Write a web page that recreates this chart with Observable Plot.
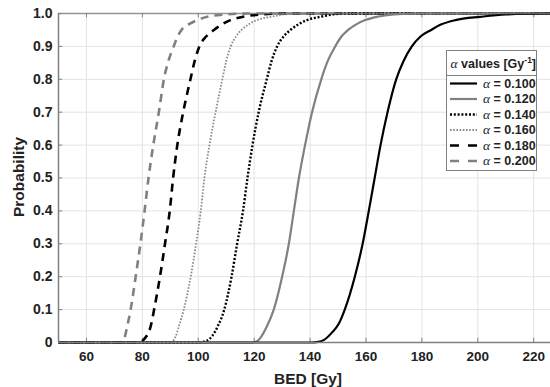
<!DOCTYPE html>
<html><head><meta charset="utf-8">
<script src="https://cdn.jsdelivr.net/npm/d3@7"></script>
<script src="https://cdn.jsdelivr.net/npm/@observablehq/plot@0.6"></script>
<style>
html,body{margin:0;padding:0;background:#fff;}
#chart{width:550px;height:387px;}
svg text{font-family:"Liberation Sans",Arial,Helvetica,sans-serif;font-weight:bold;}
</style></head><body><div id="chart"></div>
<script>
// ---- data ----
const alphaValues = ["0.100", "0.120", "0.140", "0.160", "0.180", "0.200"];

const bed_a100 = [50, 140, 143, 145, 147.8, 150.2, 152.4, 156, 158.8, 161, 163.1, 165.2, 167.7, 170.8, 173.4, 176.4, 179.5, 183.3, 187, 192, 201, 210, 226];
const p_a100   = [0, 0, 0.002, 0.008, 0.03, 0.056, 0.1, 0.2, 0.3, 0.4, 0.5, 0.6, 0.7, 0.8, 0.855, 0.9, 0.93, 0.95, 0.967, 0.98, 0.99, 0.997, 1];

const bed_a120 = [50, 119, 121, 122.3, 124.6, 127, 130, 132.4, 134.2, 136, 138.2, 140.7, 144, 146.3, 149, 151.2, 153.6, 156.5, 159.7, 164, 170, 180, 226];
const p_a120   = [0, 0, 0.004, 0.015, 0.05, 0.1, 0.2, 0.3, 0.4, 0.5, 0.6, 0.7, 0.8, 0.855, 0.9, 0.93, 0.95, 0.967, 0.98, 0.99, 0.997, 1, 1];

const bed_a140 = [50, 100, 103, 105, 107, 109.3, 111.9, 113.9, 116, 117.6, 119.4, 121.6, 124.5, 126.2, 128.2, 130.5, 133, 135.8, 138.9, 143.7, 152, 226];
const p_a140   = [0, 0, 0.005, 0.02, 0.05, 0.1, 0.2, 0.3, 0.4, 0.5, 0.6, 0.7, 0.8, 0.855, 0.9, 0.93, 0.95, 0.967, 0.98, 0.99, 1, 1];

const bed_a160 = [50, 90, 92, 93.1, 94.8, 97.3, 99.2, 100.9, 102.2, 104, 106.2, 108.6, 110, 111.6, 113.5, 115.5, 118, 121, 126, 135, 226];
const p_a160   = [0, 0, 0.02, 0.05, 0.1, 0.2, 0.3, 0.4, 0.5, 0.6, 0.7, 0.8, 0.855, 0.9, 0.93, 0.95, 0.967, 0.98, 0.99, 1, 1];

const bed_a180 = [50, 79.4, 80.6, 83, 84.2, 86.3, 88.1, 89.8, 91, 92.5, 94.6, 97.2, 98.7, 100.4, 102.8, 105.6, 108.5, 111.5, 116, 122, 130, 226];
const p_a180   = [0, 0, 0.01, 0.05, 0.1, 0.2, 0.3, 0.4, 0.5, 0.6, 0.7, 0.8, 0.855, 0.9, 0.93, 0.95, 0.967, 0.98, 0.99, 0.997, 1, 1];

const bed_a200 = [50, 72.9, 74.6, 75.8, 77.6, 79.3, 80.8, 82.2, 83.9, 85.9, 87.7, 89.3, 91.2, 92.6, 94, 97.2, 100, 103.2, 110, 118, 226];
const p_a200   = [0, 0, 0.05, 0.1, 0.2, 0.3, 0.4, 0.5, 0.6, 0.7, 0.8, 0.855, 0.9, 0.93, 0.95, 0.97, 0.981, 0.99, 0.997, 1, 1];

const xTicks = [60, 80, 100, 120, 140, 160, 180, 200, 220];
const yTicks = [0, 0.1, 0.2, 0.3, 0.4, 0.5, 0.6, 0.7, 0.8, 0.9, 1.0];
const yTickLabels = ["0", "0.1", "0.2", "0.3", "0.4", "0.5", "0.6", "0.7", "0.8", "0.9", "1.0"];

// ---- styles ----
const styles = [
  {stroke: "#000000", strokeWidth: 2.2, dash: null, legendDash: null},
  {stroke: "#808080", strokeWidth: 2.2, dash: null, legendDash: null},
  {stroke: "#000000", strokeWidth: 2.4, dash: "2,1.8", legendDash: "2,1.8"},
  {stroke: "#8a8a8a", strokeWidth: 1.8, dash: "1.6,1.6", legendDash: "1.6,1.6"},
  {stroke: "#000000", strokeWidth: 2.6, dash: "8,6", legendDash: "9,9"},
  {stroke: "#808080", strokeWidth: 2.6, dash: "8,6", legendDash: "9,9"}
];

const series = [[bed_a100, p_a100], [bed_a120, p_a120], [bed_a140, p_a140], [bed_a160, p_a160], [bed_a180, p_a180], [bed_a200, p_a200]];
const rows = series.map(([b, p]) => b.map((v, i) => ({bed: v, p: p[i]})));

const lineMarks = rows.map((data, k) => Plot.line(data, {
  x: "bed", y: "p", curve: "monotone-x",
  stroke: styles[k].stroke, strokeWidth: styles[k].strokeWidth,
  strokeDasharray: styles[k].dash, strokeLinecap: "butt"
})).reverse();

const axisColor = "#808080";

const plot = Plot.plot({
  width: 550, height: 387,
  marginLeft: 58, marginRight: 0, marginTop: 13, marginBottom: 45,
  style: {fontFamily: "Liberation Sans, Arial, sans-serif", fontSize: "13.5px", fontWeight: "bold", color: "#222", background: "#fff"},
  x: {domain: [50, 226], ticks: xTicks},
  y: {domain: [0, 1], ticks: yTicks},
  marks: [
    Plot.gridX(xTicks, {stroke: "#e3e3e3", strokeOpacity: 1, strokeWidth: 1}),
    Plot.gridY(yTicks, {stroke: "#e3e3e3", strokeOpacity: 1, strokeWidth: 1}),
    Plot.ruleX(xTicks, {y1: 0, y2: 0.013, stroke: axisColor, strokeWidth: 1}),
    Plot.ruleX(xTicks, {y1: 0.987, y2: 1, stroke: axisColor, strokeWidth: 1}),
    Plot.ruleY(yTicks, {x1: 50, x2: 51.5, stroke: axisColor, strokeWidth: 1}),
    Plot.axisX(xTicks, {tickSize: 0, tickPadding: 9, label: null, fontSize: 13.5, fontWeight: "bold"}),
    Plot.axisY(yTicks, {tickSize: 0, tickPadding: 6, label: null, fontSize: 14, fontWeight: "bold",
      tickFormat: (d) => yTickLabels[yTicks.indexOf(d)]}),
    ...lineMarks,
    Plot.ruleY([0], {stroke: axisColor, strokeWidth: 1.5}),
    Plot.ruleY([1], {stroke: axisColor, strokeWidth: 1.5, strokeOpacity: 0.8}),
    Plot.ruleX([50], {stroke: axisColor, strokeWidth: 1.5})
  ]
});

document.getElementById("chart").appendChild(plot);

// ---- axis titles & legend ----
const svg = d3.select(plot);
svg.append("text").attr("x", 308).attr("y", 384).attr("text-anchor", "middle")
  .style("font-size", "15.5px").style("font-weight", "bold").attr("fill", "#222").text("BED [Gy]");
svg.append("text").attr("transform", "translate(23.5,177) rotate(-90)").attr("text-anchor", "middle")
  .style("font-size", "15.5px").style("font-weight", "bold").attr("fill", "#222").text("Probability");

const lg = svg.append("g").attr("text-anchor", "start");
lg.append("rect").attr("x", 446.5).attr("y", 50.5).attr("width", 90).attr("height", 120)
  .attr("fill", "#fff").attr("stroke", "#808080").attr("stroke-width", 1);
lg.append("line").attr("x1", 446.5).attr("x2", 536.5).attr("y1", 75.5).attr("y2", 75.5)
  .attr("stroke", "#808080").attr("stroke-width", 1);
const title = lg.append("text").attr("x", 450.5).attr("y", 68).attr("text-anchor", "start")
  .style("font-size", "12.5px").style("font-weight", "bold").attr("fill", "#222");
title.append("tspan").style("font-family", "Liberation Serif, Times New Roman, serif").style("font-weight", "normal").style("font-style", "italic").style("font-size", "13.5px").text("α");
title.append("tspan").text(" values [Gy");
title.append("tspan").attr("dy", -5).style("font-size", "8.5px").text("-1");
title.append("tspan").attr("dy", 5).text("]");

const ys = [83.5, 99, 114.5, 130, 145.5, 161];
alphaValues.forEach((v, k) => {
  const s = styles[k];
  lg.append("line").attr("x1", 450).attr("x2", 477).attr("y1", ys[k]).attr("y2", ys[k])
    .attr("stroke", s.stroke).attr("stroke-width", s.strokeWidth).attr("stroke-dasharray", s.legendDash);
  const t = lg.append("text").attr("x", 483).attr("y", ys[k] + 4.3).attr("text-anchor", "start")
    .style("font-size", "12.5px").style("font-weight", "bold").attr("fill", "#222");
  t.append("tspan").style("font-family", "Liberation Serif, Times New Roman, serif").style("font-weight", "normal").style("font-style", "italic").style("font-size", "13.5px").text("α");
  t.append("tspan").text(" = " + v);
});
</script>
</body></html>
